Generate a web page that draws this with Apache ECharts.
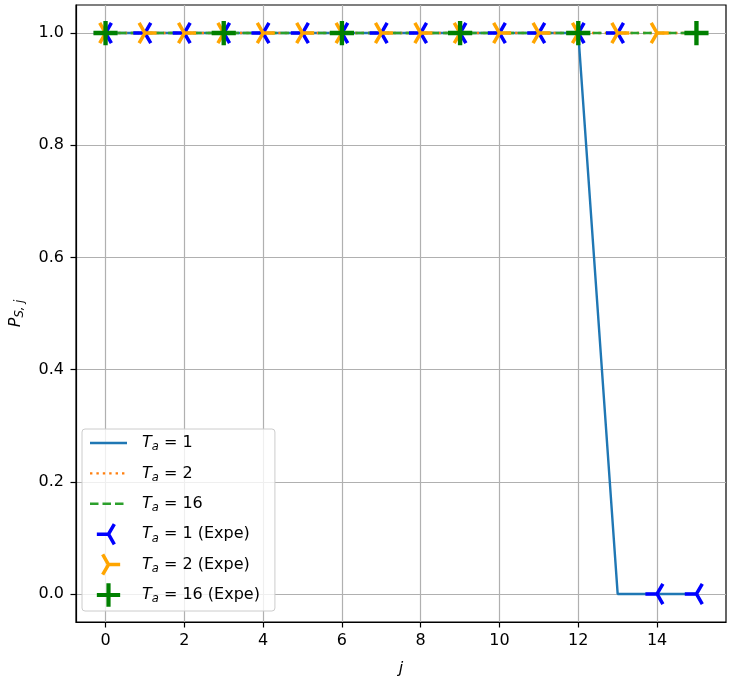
<!DOCTYPE html>
<html><head><meta charset="utf-8">
<script src="https://cdn.jsdelivr.net/npm/echarts@6/dist/echarts.min.js"></script>
<style>html,body{margin:0;padding:0;background:#fff}#c{width:733px;height:688px}</style>
</head><body><div id="c"></div>
<script>
// ---- data ----
const jValues = [0,1,2,3,4,5,6,7,8,9,10,11,12,13,14,15];
const modelTa1 = [1,1,1,1,1,1,1,1,1,1,1,1,1,0,0,0];
const modelTa2 = [1,1,1,1,1,1,1,1,1,1,1,1,1,1,1,1];
const modelTa16 = [1,1,1,1,1,1,1,1,1,1,1,1,1,1,1,1];
const expeTa1J = [0,1,2,3,4,5,6,7,8,9,10,11,12,13,14,15];
const expeTa1 = [1,1,1,1,1,1,1,1,1,1,1,1,1,1,0,0];
const expeTa2J = [0,1,2,3,4,5,6,7,8,9,10,11,12,13,14];
const expeTa2 = [1,1,1,1,1,1,1,1,1,1,1,1,1,1,1];
const expeTa16J = [0,3,6,9,12,15];
const expeTa16 = [1,1,1,1,1,1];
const xTicks = [0,2,4,6,8,10,12,14];
const yTicks = [0,0.2,0.4,0.6,0.8,1.0];
const seriesNames = ['Ta = 1','Ta = 2','Ta = 16','Ta = 1 (Expe)','Ta = 2 (Expe)','Ta = 16 (Expe)'];

// ---- marker shapes (stroked arms as filled polygons) ----
function armsPath(dirs, hw) {
  const B = 1.2;
  const f = v => v.toFixed(4);
  let s = `M0 0 L0 0 M${2*B} ${2*B} L${2*B} ${2*B} `;
  for (const [dx, dy] of dirs) {
    const nx = -dy * hw, ny = dx * hw;
    const cx = B, cy = B, ex = B + dx, ey = B + dy;
    s += `M${f(cx+nx)} ${f(cy+ny)} L${f(ex+nx)} ${f(ey+ny)} L${f(ex-nx)} ${f(ey-ny)} L${f(cx-nx)} ${f(cy-ny)} Z `;
  }
  return 'path://' + s;
}
const s3 = Math.sqrt(3) / 2;
const triLeft = armsPath([[-1,0],[0.5,-s3],[0.5,s3]], 0.15);
const triRight = armsPath([[1,0],[-0.5,-s3],[-0.5,s3]], 0.15);
const plusSym = armsPath([[1,0],[0,1],[-1,0],[0,-1]], 0.18);

// legend line handles, drawn in a 37x28 box
const LW = 37, LH = 28;
function lineHandle(on, off) {
  const y0 = LH / 2 - 1.2, y1 = LH / 2 + 1.2;
  let s = `M0 0 L0 0 M${LW} ${LH} L${LW} ${LH} `;
  let x = 0;
  while (x < LW) {
    const x2 = Math.min(LW, x + on);
    s += `M${x.toFixed(2)} ${y0} L${x2.toFixed(2)} ${y0} L${x2.toFixed(2)} ${y1} L${x.toFixed(2)} ${y1} Z `;
    x += on + off;
  }
  return 'path://' + s;
}
const handleSolid = lineHandle(37, 0);
const handleDotted = lineHandle(2.4, 4);
const handleDashed = lineHandle(8.5, 4);

const pairs = (xs, ys) => xs.map((x, i) => [x, ys[i]]);
const FONT = 'DejaVu Sans';
const FS = 16;
const rich = {
  i: {fontFamily: FONT, fontStyle: 'italic', fontSize: FS, color: '#000', lineHeight: 18},
  s: {fontFamily: FONT, fontStyle: 'italic', fontSize: 11.5, color: '#000', lineHeight: 11, padding: [9,0,0,0]},
  n: {fontFamily: FONT, fontSize: FS, color: '#000', lineHeight: 18}
};

const chart = echarts.init(document.getElementById('c'), null, {renderer: 'canvas'});
const lineBase = (name, ys, color, type, z) => ({
  name, type: 'line', data: pairs(jValues, ys), symbol: 'none', showSymbol: false,
  lineStyle: {color, width: 2.4, type}, itemStyle: {color}, z, silent: true
});
const scatBase = (name, xs, ys, color, symbol, size, z) => ({
  name, type: 'scatter', data: pairs(xs, ys), symbol, symbolSize: size, symbolKeepAspect: true,
  itemStyle: {color, opacity: 1}, z, silent: true
});

chart.setOption({
  animation: false,
  backgroundColor: '#fff',
  grid: {left: 76, right: 7, top: 5, bottom: 66, containLabel: false, outerBoundsMode: 'none',
    show: true, borderColor: '#000', borderWidth: 1.2, backgroundColor: 'transparent'},
  xAxis: {
    type: 'value', min: -0.75, max: 15.75,
    name: 'j', nameLocation: 'middle', nameGap: 39,
    nameTextStyle: {fontFamily: FONT, fontStyle: 'italic', fontSize: FS, color: '#000'},
    axisLine: {show: true, onZero: false, lineStyle: {color: '#000', width: 1.2}},
    axisTick: {show: true, length: 5.5, customValues: xTicks, lineStyle: {color: '#000', width: 1.2}},
    axisLabel: {customValues: xTicks, fontFamily: FONT, fontSize: FS, color: '#000', margin: 11},
    splitLine: {show: true, lineStyle: {color: '#b0b0b0', width: 1.2}}
  },
  yAxis: {
    type: 'value', min: -0.05, max: 1.05,
    name: '{i|P}{s|S, j}', nameLocation: 'middle', nameGap: 51, nameRotate: 90,
    nameTextStyle: {rich},
    axisLine: {show: true, onZero: false, lineStyle: {color: '#000', width: 1.2}},
    axisTick: {show: true, length: 5.5, customValues: yTicks, lineStyle: {color: '#000', width: 1.2}},
    axisLabel: {customValues: yTicks, fontFamily: FONT, fontSize: FS, color: '#000', margin: 12,
      formatter: v => v.toFixed(1)},
    splitLine: {show: true, lineStyle: {color: '#b0b0b0', width: 1.2}}
  },
  legend: {
    orient: 'vertical', left: 82, top: 429, selectedMode: false,
    itemWidth: LW, itemHeight: LH, itemGap: 2.4,
    padding: [0, 15, 2, 8],
    backgroundColor: 'rgba(255,255,255,0.8)', borderColor: '#cccccc', borderWidth: 1, borderRadius: 3,
    itemStyle: {borderWidth: 0},
    data: [
      {name: seriesNames[0], icon: handleSolid},
      {name: seriesNames[1], icon: handleDotted},
      {name: seriesNames[2], icon: handleDashed},
      {name: seriesNames[3]},
      {name: seriesNames[4]},
      {name: seriesNames[5]}
    ],
    textStyle: {fontFamily: FONT, fontSize: FS, color: '#000', rich, padding: [0,0,0,10]},
    formatter: name => '{i|T}{s|a}{n|' + name.slice(2) + '}'
  },
  series: [
    lineBase(seriesNames[0], modelTa1, '#1f77b4', 'solid', 2),
    lineBase(seriesNames[1], modelTa2, '#ff7f0e', [2.4, 4], 3),
    lineBase(seriesNames[2], modelTa16, '#2ca02c', [8.5, 4], 4),
    scatBase(seriesNames[3], expeTa1J, expeTa1, '#0000ff', triLeft, 28, 5),
    scatBase(seriesNames[4], expeTa2J, expeTa2, '#ffa500', triRight, 28, 6),
    scatBase(seriesNames[5], expeTa16J, expeTa16, '#008000', plusSym, 29, 7)
  ]
});
</script></body></html>
